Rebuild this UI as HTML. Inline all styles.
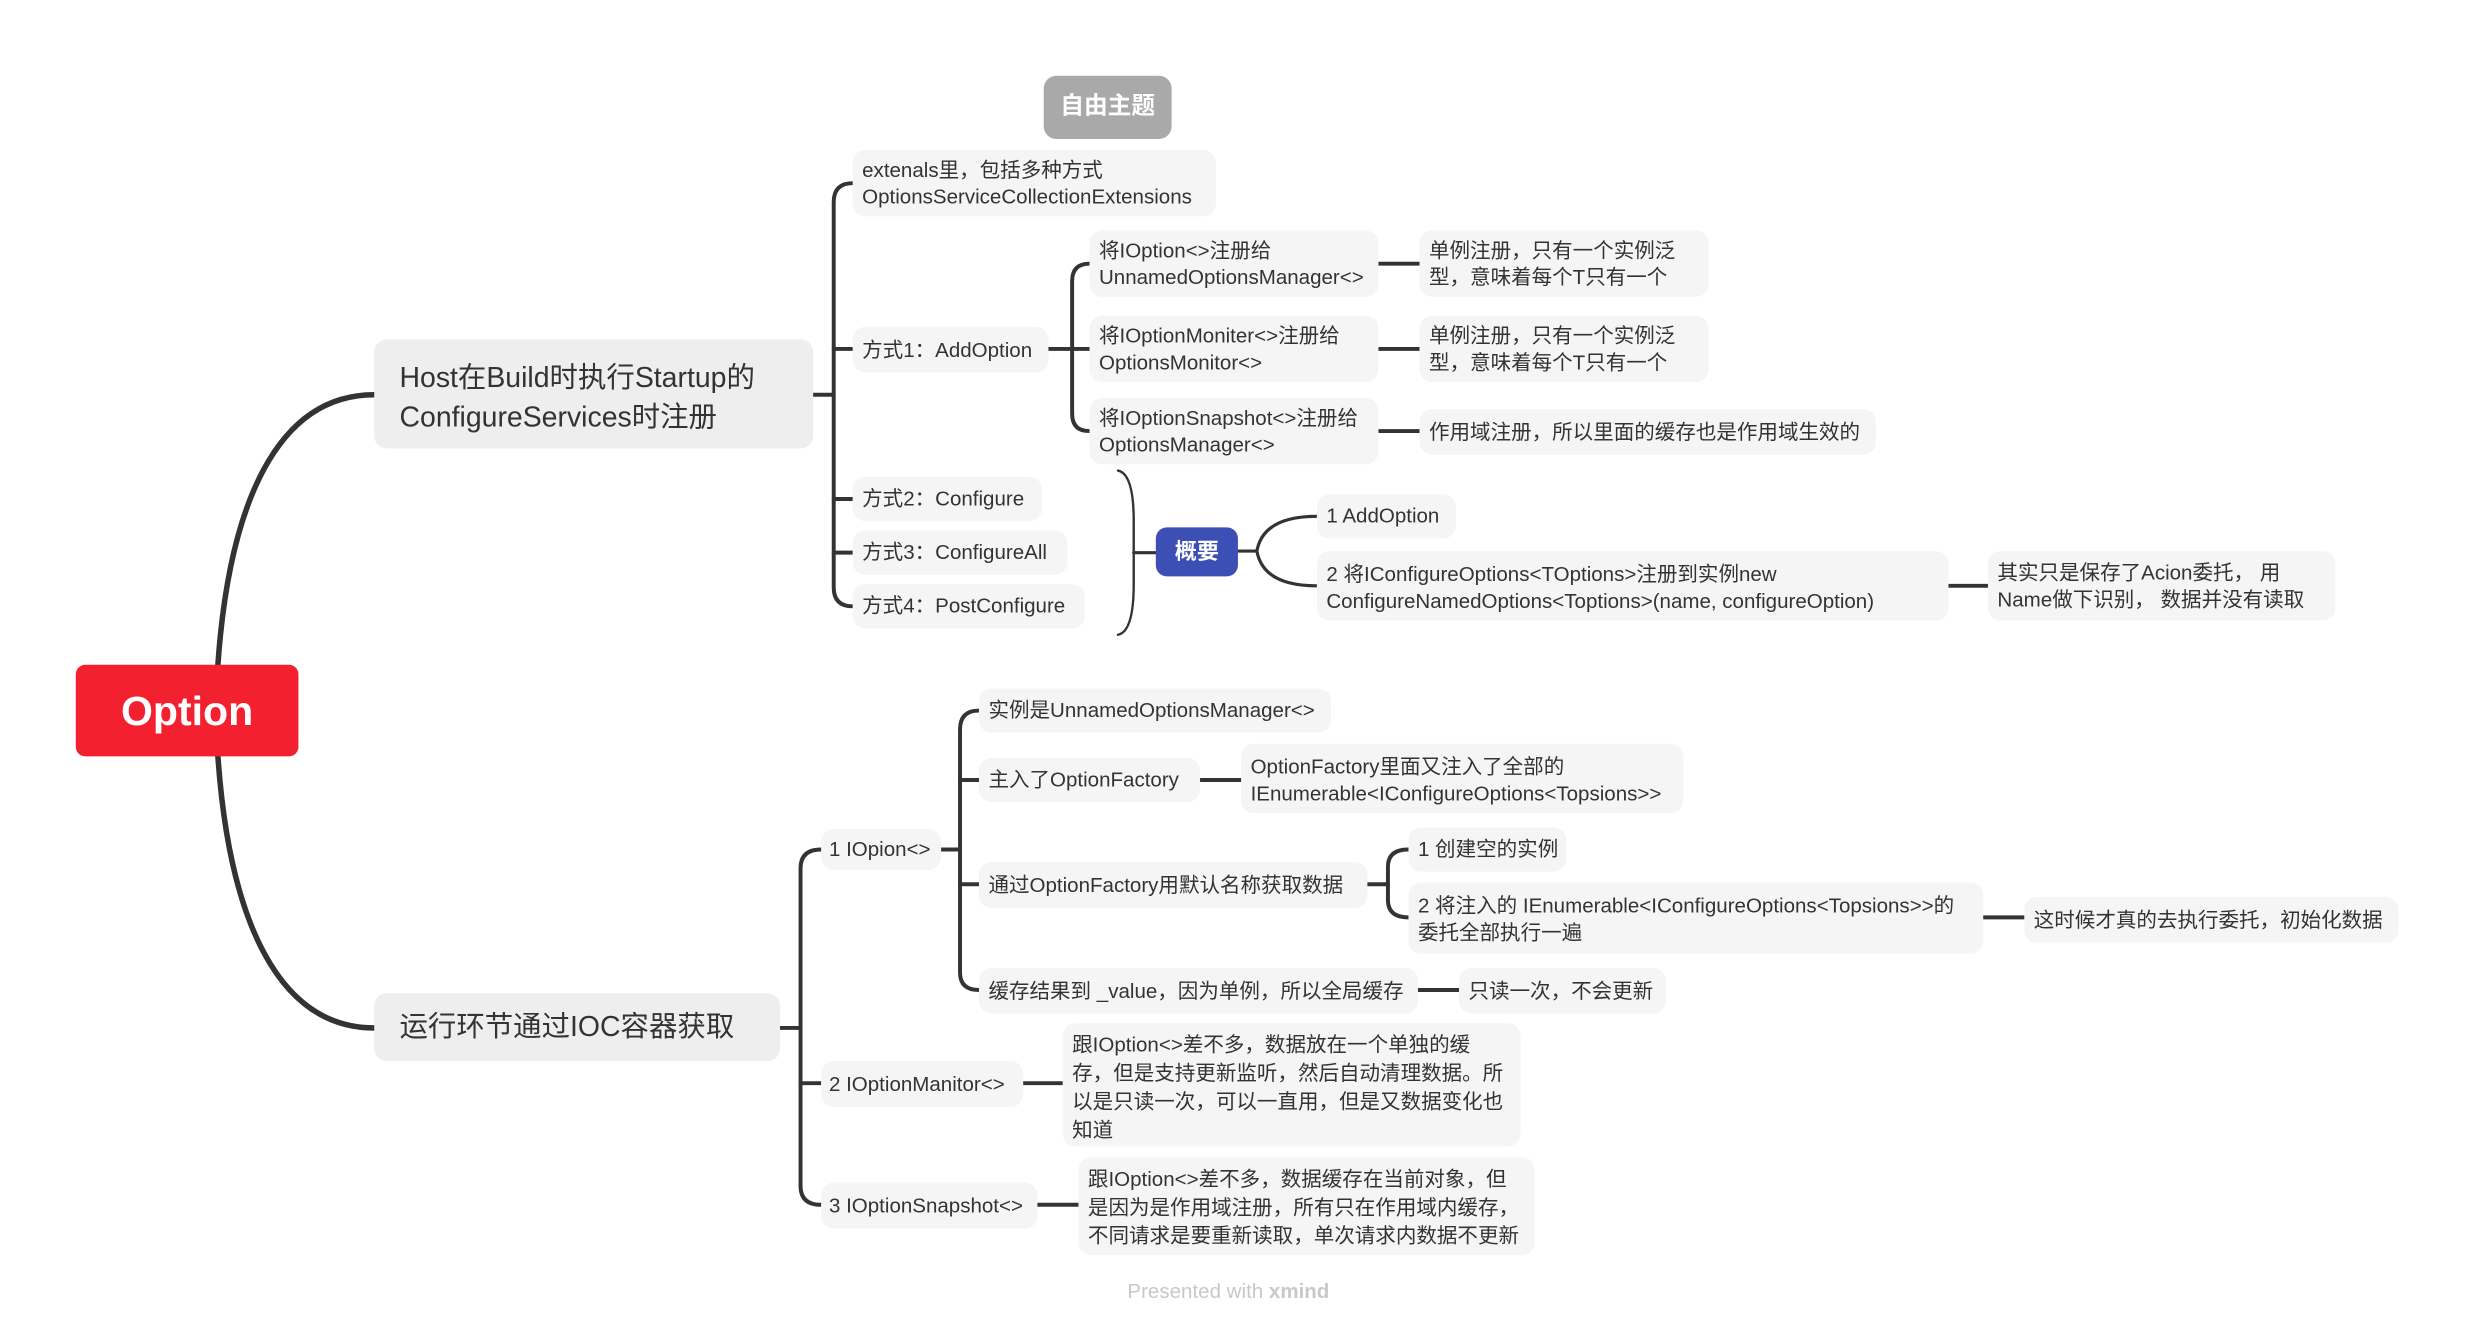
<!DOCTYPE html>
<html><head><meta charset="utf-8"><style>
html,body{margin:0;padding:0;background:#fff;}
body{width:2475px;height:1330px;overflow:hidden;position:relative;}
#w{position:absolute;left:0;top:0;width:1570px;height:845px;transform:scale(1.579);transform-origin:0 0;font-family:"Liberation Sans","Noto Sans CJK SC",sans-serif;}
.n{position:absolute;background:#f5f5f5;border-radius:8px;color:#333;font-size:13px;line-height:17px;box-sizing:border-box;padding:5px 6px;white-space:nowrap;}
svg{position:absolute;left:0;top:0;}
</style></head><body><div id="w">
<svg width="1570" height="845" fill="none" stroke="#333" stroke-linecap="round">
<path d="M138 421 C145 320 175 250 237 250" stroke-width="3.5"/>
<path d="M138 479 C145 580 175 651 237 651" stroke-width="3.5"/>
<g stroke-width="2.5">
<path d="M515 250 H528"/>
<path d="M540 116 Q528 116 528 128 V372 Q528 384 540 384"/>
<path d="M528 221 H540 M528 316 H540 M528 350 H540"/>
<path d="M664 221 H679"/>
<path d="M690 167 Q679 167 679 178 V262 Q679 273 690 273"/>
<path d="M679 221 H690"/>
<path d="M873 167 H899 M873 221 H899 M873 273 H899"/>
<path d="M494 651 H507"/>
<path d="M520 538 Q507 538 507 550 V751 Q507 763 520 763"/>
<path d="M507 686 H520"/>
<path d="M596 538 H608"/>
<path d="M620 450 Q608 450 608 462 V616 Q608 627 620 627"/>
<path d="M608 494 H620 M608 560 H620"/>
<path d="M760 494 H786"/>
<path d="M866 560 H879"/>
<path d="M892 538 Q879 538 879 549 V570 Q879 581 892 581"/>
<path d="M1256 581 H1282"/>
<path d="M898 627 H924"/>
<path d="M648 686 H673"/>
<path d="M657 763 H683"/>
<path d="M1234 371 H1259"/>
</g>
<path d="M708 298 Q718 300 718 330 V370 Q718 400 708 402" stroke-width="1.5"/>
<path d="M718 350 H732" stroke-width="2"/>
<path d="M784 349 H796 M834 327 Q800 327 796 349 Q800 371 834 371" stroke-width="2"/>
</svg>
<div style="position:absolute;left:48px;top:421px;width:141px;height:58px;background:#f3202f;border-radius:6px;color:#fff;font-weight:bold;font-size:26px;line-height:58px;text-align:center;">Option</div>
<div style="position:absolute;left:661px;top:48px;width:81px;height:40px;background:#a9a9a9;border-radius:8px;color:#fff;font-weight:bold;font-size:15px;line-height:40px;text-align:center;">自由主题</div>
<div class="n" style="left:237px;top:215px;width:278px;height:69px;font-size:18px;line-height:25px;padding:12px 16px;background:#eee;">Host在Build时执行Startup的<br>ConfigureServices时注册</div>
<div class="n" style="left:237px;top:629px;width:257px;height:43px;font-size:18px;line-height:43px;padding:0 16px;background:#eee;">运行环节通过IOC容器获取</div>
<div class="n" style="left:540px;top:95px;width:230px;height:42px;padding:4px 6px;">extenals里，包括多种方式<br>OptionsServiceCollectionExtensions</div>
<div class="n" style="left:540px;top:207px;width:124px;height:29px;line-height:29px;padding:0 6px;">方式1：AddOption</div>
<div class="n" style="left:690px;top:146px;width:183px;height:42px;padding:4px 6px;">将IOption&lt;&gt;注册给<br>UnnamedOptionsManager&lt;&gt;</div>
<div class="n" style="left:690px;top:200px;width:183px;height:42px;padding:4px 6px;">将IOptionMoniter&lt;&gt;注册给<br>OptionsMonitor&lt;&gt;</div>
<div class="n" style="left:690px;top:252px;width:183px;height:42px;padding:4px 6px;">将IOptionSnapshot&lt;&gt;注册给<br>OptionsManager&lt;&gt;</div>
<div class="n" style="left:899px;top:146px;width:183px;height:42px;padding:4px 6px;">单例注册，只有一个实例泛<br>型，意味着每个T只有一个</div>
<div class="n" style="left:899px;top:200px;width:183px;height:42px;padding:4px 6px;">单例注册，只有一个实例泛<br>型，意味着每个T只有一个</div>
<div class="n" style="left:899px;top:259px;width:289px;height:29px;line-height:29px;padding:0 6px;">作用域注册，所以里面的缓存也是作用域生效的</div>
<div class="n" style="left:540px;top:302px;width:120px;height:28px;line-height:28px;padding:0 6px;">方式2：Configure</div>
<div class="n" style="left:540px;top:336px;width:136px;height:28px;line-height:28px;padding:0 6px;">方式3：ConfigureAll</div>
<div class="n" style="left:540px;top:370px;width:147px;height:28px;line-height:28px;padding:0 6px;">方式4：PostConfigure</div>
<div style="position:absolute;left:732px;top:334px;width:52px;height:31px;background:#3c4fb4;border-radius:7px;color:#fff;font-weight:bold;font-size:14px;line-height:31px;text-align:center;">概要</div>
<div class="n" style="left:834px;top:313px;width:88px;height:28px;line-height:28px;padding:0 6px;">1 AddOption</div>
<div class="n" style="left:834px;top:349px;width:400px;height:44px;padding:6px 6px;">2 将IConfigureOptions&lt;TOptions&gt;注册到实例new<br>ConfigureNamedOptions&lt;Toptions&gt;(name, configureOption)</div>
<div class="n" style="left:1259px;top:349px;width:220px;height:44px;padding:5px 6px;">其实只是保存了Acion委托， 用<br>Name做下识别， 数据并没有读取</div>
<div class="n" style="left:520px;top:525px;width:76px;height:26px;line-height:26px;padding:0 5px;">1 IOpion&lt;&gt;</div>
<div class="n" style="left:620px;top:436px;width:223px;height:28px;line-height:28px;padding:0 6px;">实例是UnnamedOptionsManager&lt;&gt;</div>
<div class="n" style="left:620px;top:480px;width:140px;height:28px;line-height:28px;padding:0 6px;">主入了OptionFactory</div>
<div class="n" style="left:786px;top:471px;width:280px;height:44px;padding:6px 6px;">OptionFactory里面又注入了全部的<br>IEnumerable&lt;IConfigureOptions&lt;Topsions&gt;&gt;</div>
<div class="n" style="left:620px;top:546px;width:246px;height:29px;line-height:29px;padding:0 6px;">通过OptionFactory用默认名称获取数据</div>
<div class="n" style="left:892px;top:524px;width:100px;height:28px;line-height:28px;padding:0 6px;">1 创建空的实例</div>
<div class="n" style="left:892px;top:559px;width:364px;height:45px;padding:6px 6px;">2 将注入的 IEnumerable&lt;IConfigureOptions&lt;Topsions&gt;&gt;的<br>委托全部执行一遍</div>
<div class="n" style="left:1282px;top:568px;width:237px;height:29px;line-height:29px;padding:0 6px;">这时候才真的去执行委托，初始化数据</div>
<div class="n" style="left:620px;top:613px;width:278px;height:29px;line-height:29px;padding:0 6px;">缓存结果到 _value，因为单例，所以全局缓存</div>
<div class="n" style="left:924px;top:613px;width:131px;height:29px;line-height:29px;padding:0 6px;">只读一次，不会更新</div>
<div class="n" style="left:520px;top:672px;width:128px;height:29px;line-height:29px;padding:0 5px;">2 IOptionManitor&lt;&gt;</div>
<div class="n" style="left:673px;top:648px;width:290px;height:78px;padding:5px 6px;line-height:18px;white-space:normal;">跟IOption&lt;&gt;差不多，数据放在一个单独的缓存，但是支持更新监听，然后自动清理数据。所以是只读一次，可以一直用，但是又数据变化也知道</div>
<div class="n" style="left:520px;top:749px;width:137px;height:29px;line-height:29px;padding:0 5px;">3 IOptionSnapshot&lt;&gt;</div>
<div class="n" style="left:683px;top:733px;width:289px;height:62px;padding:5px 6px;line-height:18px;">跟IOption&lt;&gt;差不多，数据缓存在当前对象，但<br>是因为是作用域注册，所有只在作用域内缓存，<br>不同请求是要重新读取，单次请求内数据不更新</div>
<div style="position:absolute;left:714px;top:810px;font-size:13px;color:#c8c8c8;">Presented with <b>xmind</b></div>
</div></body></html>
